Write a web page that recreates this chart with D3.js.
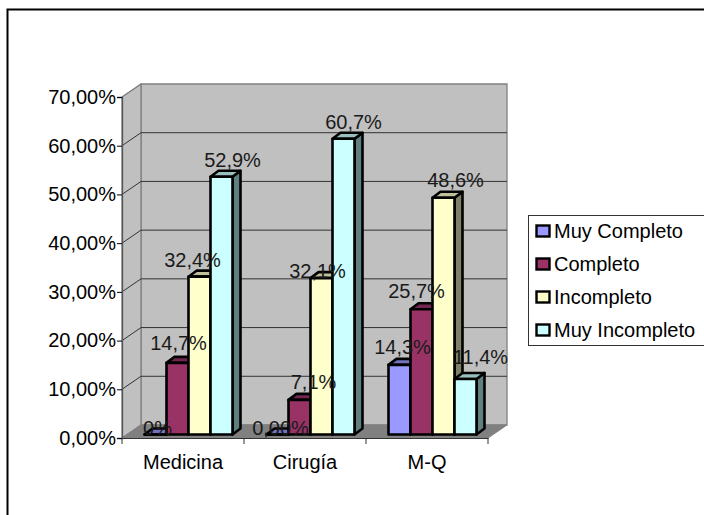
<!DOCTYPE html>
<html><head><meta charset="utf-8">
<script src="https://cdn.jsdelivr.net/npm/d3@7"></script>
<style>html,body{margin:0;padding:0;background:#fff}svg{display:block}text{font-family:"Liberation Sans",Arial,sans-serif;fill:#000}</style>
</head><body><svg id="c" width="704" height="515"></svg>
<script>
const categories=["Medicina","Cirugía","M-Q"];
const seriesNames=["Muy Completo","Completo","Incompleto","Muy Incompleto"];
const muyCompleto=[0,0,14.3];
const completo=[14.7,7.1,25.7];
const incompleto=[32.4,32.1,48.6];
const muyIncompleto=[52.9,60.7,11.4];
const labelsMuyCompleto=["0%","0,00%","14,3%"];
const labelsCompleto=["14,7%","7,1%","25,7%"];
const labelsIncompleto=["32,4%","32,1%","48,6%"];
const labelsMuyIncompleto=["52,9%","60,7%","11,4%"];
const colors=["#9999FF","#993366","#FFFFCC","#CCFFFF"];
const topColors=["#7373BF","#732650","#BFBF99","#99BFBF"];
const sideColors=["#4D4D80","#4D1A33","#808066","#608080"];
const ticks=[0,10,20,30,40,50,60,70];
const fmt=v=>v.toFixed(2).replace(".",",")+"%";
const FS="20px";
// hand placement of value labels relative to the bar, by series then category
const nudge=[[2,3,3],[1,14,-5],[-7,-4,12],[11,10,15]];
const nudgeY=[[10,10,-1],[-3,-1,-1],[0,10,-1],[0,0,-5]];

const svg=d3.select("#c");
const W=704,H=515,DX=19,DY=-13;
const x=d3.scaleBand().domain(categories).range([122,488]);
const y=d3.scaleLinear().domain([0,70]).range([438,97]);
const series=[muyCompleto,completo,incompleto,muyIncompleto];
const labels=[labelsMuyCompleto,labelsCompleto,labelsIncompleto,labelsMuyIncompleto];

// outer frame
svg.append("rect").attr("x",7.5).attr("y",9.5).attr("width",W).attr("height",H).attr("fill","#fff").attr("stroke","#000").attr("stroke-width",2);

// walls
const x0=x.range()[0],x1=x.range()[1],yb=y(0),yt=y(70);
svg.append("polygon").attr("points",[[x0+DX,yb+DY],[x1+DX,yb+DY],[x1+DX,yt+DY],[x0+DX,yt+DY]].join(" ")).attr("fill","#C0C0C0").attr("stroke","#808080").attr("stroke-width",1.3);
svg.append("polygon").attr("points",[[x0,yb],[x0+DX,yb+DY],[x0+DX,yt+DY],[x0,yt]].join(" ")).attr("fill","#C0C0C0").attr("stroke","#808080").attr("stroke-width",1.3);
svg.append("polygon").attr("points",[[x0,yb],[x1,yb],[x1+DX,yb+DY],[x0+DX,yb+DY]].join(" ")).attr("fill","#808080").attr("stroke","#808080");

// gridlines
ticks.slice(1,-1).forEach(t=>{
  svg.append("path").attr("d",`M${x0},${y(t)}L${x0+DX},${y(t)+DY}L${x1+DX},${y(t)+DY}`).attr("fill","none").attr("stroke","#333").attr("stroke-width",1);
});
svg.append("path").attr("d",`M${x0},${y(70)}L${x0+DX},${y(70)+DY}`).attr("fill","none").attr("stroke","#808080");

// axes
const ay=svg.append("g").attr("transform",`translate(${x0},0)`).call(d3.axisLeft(y).tickValues(ticks).tickFormat(fmt).tickSize(5).tickPadding(1));
ay.select(".domain").attr("stroke","#555").attr("stroke-width",1.3);
ay.selectAll("text").style("font-size",FS);
const ax=svg.append("g").attr("transform",`translate(0,${yb})`).call(d3.axisBottom(x).tickSize(0).tickPadding(17));
ax.select(".domain").attr("stroke","#333");
ax.selectAll("text").style("font-size",FS);
ax.selectAll(".sep").data([x0,x0+x.bandwidth(),x0+2*x.bandwidth(),x1]).enter().append("line").attr("x1",d=>d).attr("x2",d=>d).attr("y1",0).attr("y2",6).attr("stroke","#333");

// bars
const inner=d3.scaleBand().domain(seriesNames).range([22.5,110.5]);
const base=y(0)-3.5;
const bd=8,bh=-6;
const order=[];
categories.forEach((c,ci)=>seriesNames.forEach((s,si)=>order.push({c,ci,si,v:series[si][ci],l:labels[si][ci]})));
const g=svg.append("g");
const bars=g.selectAll("g.b").data(order).enter().append("g");
bars.each(function(d){
  const s=d3.select(this);
  const l=x(d.c)+inner(seriesNames[d.si]),r=l+inner.bandwidth();
  const t=base-(y(0)-y(d.v));
  const st={stroke:"#000","stroke-width":2.6,"stroke-linejoin":"round"};
  const poly=(pts,f)=>{const p=s.append("polygon").attr("points",pts.join(" ")).attr("fill",f);Object.entries(st).forEach(([k,v])=>p.attr(k,v));};
  poly([[r,t],[r+bd,t+bh],[r+bd,base+bh],[r,base]],sideColors[d.si]);
  poly([[l,t],[l+bd,t+bh],[r+bd,t+bh],[r,t]],topColors[d.si]);
  poly([[l,t],[r,t],[r,base],[l,base]],colors[d.si]);
});
// value labels
g.selectAll("text.v").data(order).enter().append("text").attr("class","v")
 .attr("x",d=>x(d.c)+inner(seriesNames[d.si])+inner.bandwidth()/2+nudge[d.si][d.ci])
 .attr("y",d=>base-(y(0)-y(d.v))-10+nudgeY[d.si][d.ci])
 .attr("text-anchor","middle").style("font-size",FS).style("fill","#1a1a1a").text(d=>d.l);

// legend
const lg=svg.append("g");
lg.append("rect").attr("x",528.5).attr("y",215.5).attr("width",176).attr("height",130).attr("fill","#fff").attr("stroke","#333").attr("stroke-width",1);
const ly=d3.scalePoint().domain(seriesNames).range([231,330]);
seriesNames.forEach((s,i)=>{
  lg.append("rect").attr("x",536.5).attr("y",ly(s)-5.5).attr("width",13).attr("height",11).attr("fill",colors[i]).attr("stroke","#000").attr("stroke-width",2.4);
  lg.append("text").attr("x",554).attr("y",ly(s)+7).style("font-size",FS).text(s);
});
</script></body></html>
